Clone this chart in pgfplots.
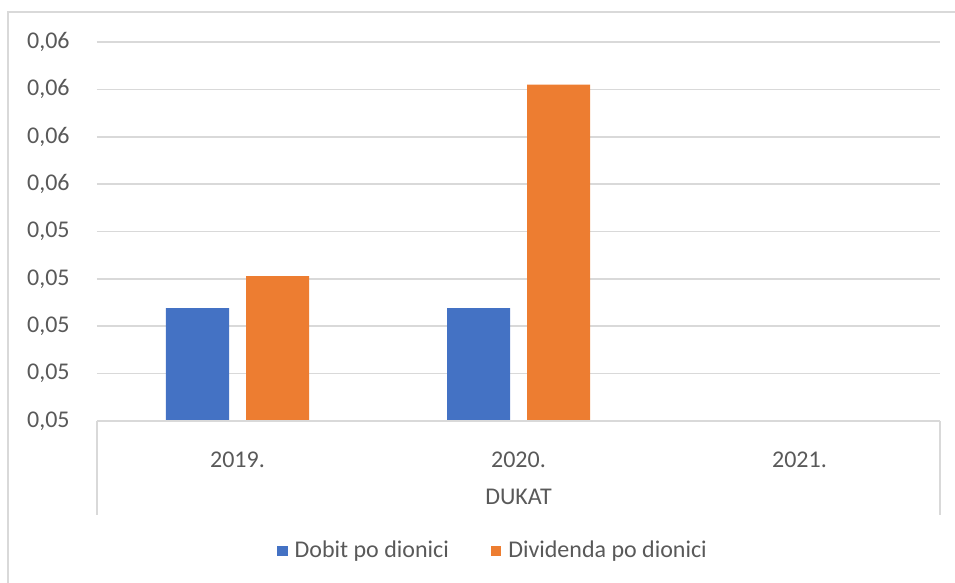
\documentclass[border=0pt]{standalone}
\usepackage{pgfplots}
\pgfplotsset{compat=1.18}
\usepackage{fontspec}
\setmainfont{Carlito}
\definecolor{txt}{HTML}{595959}
\definecolor{gridc}{HTML}{D9D9D9}
\definecolor{blu}{HTML}{4472C4}
\definecolor{org}{HTML}{ED7D31}
\begin{document}
\fontsize{12}{14}\selectfont
\begin{tikzpicture}[x=1pt,y=1pt]
\path[use as bounding box] (0,0) rectangle (477.5,291.5);
\draw[gridc, line width=0.75pt] (4,0) -- (4,285.5) -- (477.5,285.5);
\begin{axis}[
  at={(48.5pt,81pt)}, anchor=south west,
  scale only axis, width=421.5pt, height=189.5pt,
  xmin=-0.5, xmax=2.5, ymin=0.050, ymax=0.058,
  ybar=8.5pt, bar width=31.5pt,
  scaled y ticks=false,
  xtick={0,1,2}, xticklabels={2019.,2020.,2021.},
  ytick={0.050,0.051,0.052,0.053,0.054,0.055,0.056,0.057,0.058},
  yticklabels={{0,05},{0,05},{0,05},{0,05},{0,05},{0,06},{0,06},{0,06},{0,06}},
  major tick length=0,
  axis line style={draw=none},
  ymajorgrids, grid style={gridc, line width=0.75pt},
  tick label style={font=\fontsize{12}{14}\selectfont, text=txt},
  yticklabel style={anchor=east, inner sep=0pt, xshift=-13.5pt},
  xticklabel style={anchor=center, inner sep=0pt, yshift=-19.5pt},
  xlabel={DUKAT},
  xlabel style={at={(axis description cs:0.5,0)}, anchor=center, inner sep=0pt, yshift=-38pt, text=txt, font=\fontsize{12}{14}\selectfont},
  legend columns=2,
  legend style={draw=none, at={(axis description cs:0.4686,-0.343)}, anchor=center,
    font=\fontsize{12}{14}\selectfont, text=txt, inner sep=0pt,
    /tikz/every odd column/.append style={column sep=3.5pt},
    /tikz/every even column/.append style={column sep=21pt},
    nodes={inner sep=0pt, anchor=west}},
  legend image code/.code={\fill[#1] (0pt,-2.6pt) rectangle (5.2pt,2.6pt);},
  clip=false,
]
\addplot[fill=blu, draw=none] coordinates {(0,0.05238) (1,0.05238)};
\addplot[fill=org, draw=none] coordinates {(0,0.05306) (1,0.0571)};
\legend{Dobit po dionici, Dividenda po dionici}
\draw[gridc, line width=0.75pt] (rel axis cs:0,0) -- (rel axis cs:1,0);
\draw[gridc, line width=0.75pt] (rel axis cs:0,0) -- ++(0pt,-47pt);
\draw[gridc, line width=0.75pt] (rel axis cs:1,0) -- ++(0pt,-47pt);
\end{axis}
\end{tikzpicture}
\end{document}
